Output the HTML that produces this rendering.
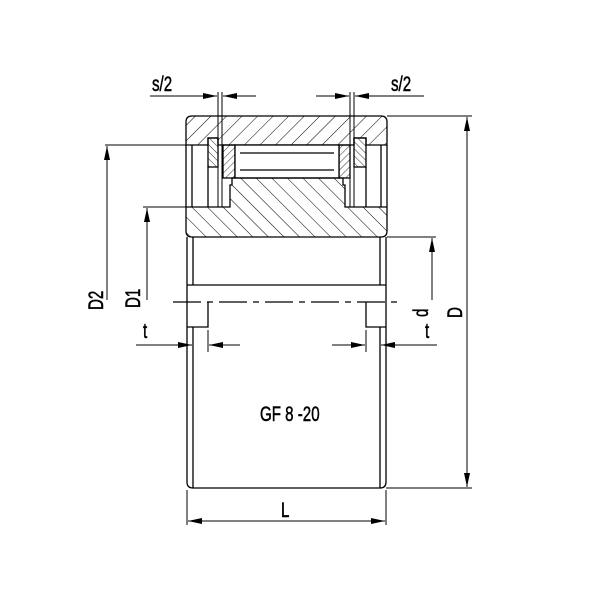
<!DOCTYPE html>
<html><head><style>html,body{margin:0;padding:0;background:#fff}svg{display:block}text{font-family:"Liberation Sans",sans-serif;fill:#000;stroke:#000;stroke-width:0.5}</style></head>
<body>
<svg width="600" height="600" viewBox="0 0 600 600" xmlns="http://www.w3.org/2000/svg">
<defs>
<pattern id="hA" patternUnits="userSpaceOnUse" width="11" height="11" patternTransform="rotate(45)"><line x1="0" y1="0" x2="0" y2="11" stroke="#000" stroke-width="1"/></pattern>
<pattern id="hB" patternUnits="userSpaceOnUse" width="11" height="11" patternTransform="rotate(-45)"><line x1="0" y1="0" x2="0" y2="11" stroke="#000" stroke-width="1"/></pattern>
<pattern id="hC" patternUnits="userSpaceOnUse" width="5" height="5" patternTransform="rotate(45)"><line x1="0" y1="0" x2="0" y2="5" stroke="#000" stroke-width="0.8"/></pattern>
<pattern id="hD" patternUnits="userSpaceOnUse" width="5" height="5" patternTransform="rotate(-45)"><line x1="0" y1="0" x2="0" y2="5" stroke="#000" stroke-width="0.8"/></pattern>
<marker id="ar" viewBox="0 0 14 6" refX="14" refY="3" markerWidth="14" markerHeight="6" markerUnits="userSpaceOnUse" orient="auto"><path d="M0,0 L14,3 L0,6 z" fill="#000"/></marker>
</defs>
<g stroke="#000" stroke-width="1.3" fill="none">
<path d="M192,116 H381 Q387,116 387,122 V145 H366 V138 H354 V145 H218 V138 H208 V145 H186 V122 Q186,116 192,116 Z" fill="url(#hA)"/>
<rect x="208" y="138" width="10" height="29" fill="url(#hD)"/>
<rect x="354" y="138" width="12" height="29" fill="url(#hD)"/>
<rect x="223" y="145" width="12" height="33" fill="url(#hC)"/>
<rect x="339" y="145" width="11" height="33" fill="url(#hC)"/>
<rect x="235" y="145" width="104" height="33" fill="#fff"/>
<line x1="240" y1="153" x2="334" y2="153"/>
<line x1="240" y1="170" x2="334" y2="170"/>
<path d="M232,178 H343 V185 H345 V207 H387 V231 Q387,237 381,237 H192 Q186,237 186,231 V207 H230 V185 H232 Z" fill="url(#hB)"/>
<line x1="186" y1="145" x2="186" y2="207"/>
<line x1="192" y1="145" x2="192" y2="207"/>
<line x1="208" y1="167" x2="208" y2="207"/>
<line x1="381" y1="145" x2="381" y2="207"/>
<line x1="387" y1="145" x2="387" y2="207"/>
<line x1="366" y1="167" x2="366" y2="207"/>
<line x1="218" y1="92" x2="218" y2="207" stroke-width="1"/>
<line x1="222" y1="92" x2="222" y2="207" stroke-width="1"/>
<line x1="350" y1="92" x2="350" y2="207" stroke-width="1"/>
<line x1="354" y1="92" x2="354" y2="207" stroke-width="1"/>
<line x1="187" y1="237" x2="187" y2="482"/>
<line x1="193" y1="237" x2="193" y2="285"/>
<line x1="380" y1="237" x2="380" y2="285"/>
<line x1="386" y1="237" x2="386" y2="482"/>
<line x1="187" y1="285" x2="386" y2="285"/>
<path d="M208,302 V327 H187"/>
<path d="M366,302 V327 H386"/>
<line x1="193" y1="327" x2="193" y2="488"/>
<line x1="380" y1="327" x2="380" y2="488"/>
<path d="M187,482 Q187,488 193,488 H380 Q386,488 386,482"/>
</g>
<line x1="173" y1="302" x2="402" y2="302" stroke="#000" stroke-width="1.2" stroke-dasharray="28,6,6,6"/>
<g stroke="#000" stroke-width="1" fill="none">
<line x1="387" y1="116" x2="472" y2="116"/>
<line x1="105" y1="145" x2="186" y2="145"/>
<line x1="143" y1="207" x2="186" y2="207"/>
<line x1="387" y1="237" x2="436" y2="237"/>
<line x1="386" y1="488" x2="472" y2="488"/>
<line x1="187" y1="490" x2="187" y2="525"/>
<line x1="386" y1="490" x2="386" y2="525"/>
<line x1="193" y1="330" x2="193" y2="352"/>
<line x1="208" y1="330" x2="208" y2="352"/>
<line x1="366" y1="330" x2="366" y2="352"/>
<line x1="380" y1="330" x2="380" y2="352"/>
<line x1="107" y1="300" x2="107" y2="146" marker-end="url(#ar)"/>
<line x1="147" y1="300" x2="147" y2="208" marker-end="url(#ar)"/>
<line x1="432" y1="300" x2="432" y2="238" marker-end="url(#ar)"/>
<line x1="467" y1="300" x2="467" y2="117" marker-end="url(#ar)"/>
<line x1="467" y1="300" x2="467" y2="487" marker-end="url(#ar)"/>
<line x1="287" y1="521" x2="188" y2="521" marker-end="url(#ar)"/>
<line x1="287" y1="521" x2="385" y2="521" marker-end="url(#ar)"/>
<line x1="150" y1="96" x2="217" y2="96" marker-end="url(#ar)"/>
<line x1="256" y1="96" x2="223" y2="96" marker-end="url(#ar)"/>
<line x1="316" y1="96" x2="349" y2="96" marker-end="url(#ar)"/>
<line x1="424" y1="96" x2="355" y2="96" marker-end="url(#ar)"/>
<line x1="136" y1="345" x2="192" y2="345" marker-end="url(#ar)"/>
<line x1="240" y1="345" x2="209" y2="345" marker-end="url(#ar)"/>
<line x1="332" y1="345" x2="365" y2="345" marker-end="url(#ar)"/>
<line x1="437" y1="345" x2="381" y2="345" marker-end="url(#ar)"/>
</g>
<g font-size="21">
<text transform="translate(152,91) scale(0.72,1)">s/2</text>
<text transform="translate(391,91) scale(0.72,1)">s/2</text>
<text transform="translate(281,517) scale(0.72,1)">L</text>
<text transform="translate(260,421) scale(0.72,1)">GF 8 -20</text>
<text transform="translate(143,338) scale(0.72,1)">t</text>
<text transform="translate(425,338) scale(0.72,1)">t</text>
<text transform="translate(103,310) rotate(-90) scale(0.72,1)">D2</text>
<text transform="translate(140,308) rotate(-90) scale(0.72,1)">D1</text>
<text transform="translate(428,317) rotate(-90) scale(0.72,1)">d</text>
<text transform="translate(462,318) rotate(-90) scale(0.72,1)">D</text>
</g>
</svg>
</body></html>
